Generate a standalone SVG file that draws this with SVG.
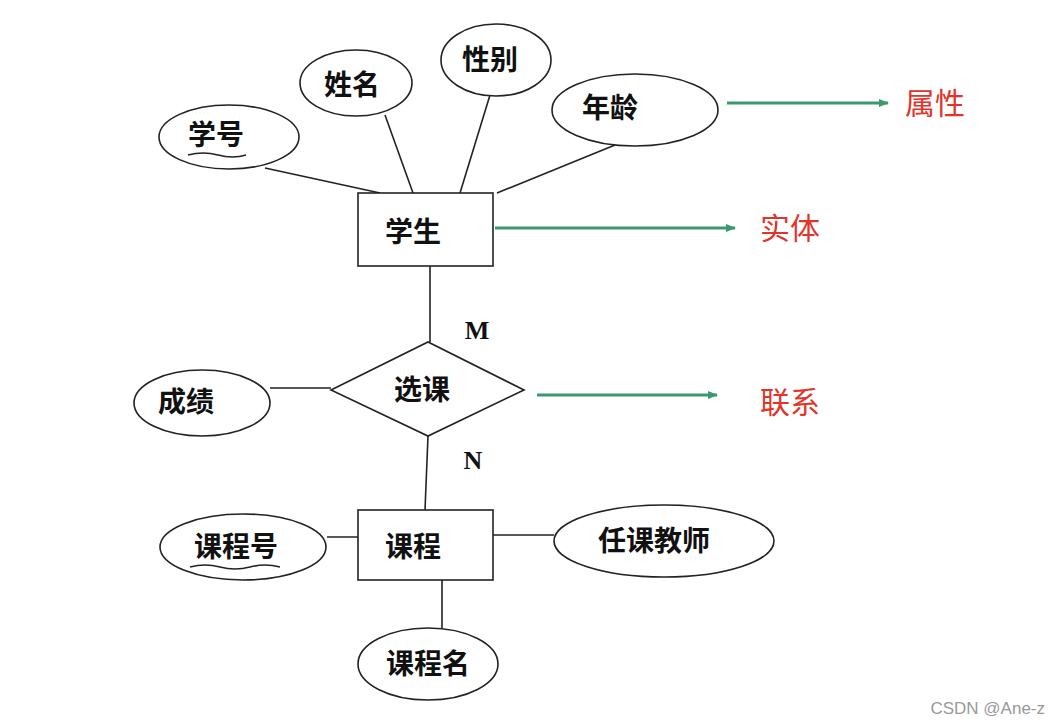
<svg xmlns="http://www.w3.org/2000/svg" width="1063" height="728" viewBox="0 0 1063 728">
<style>
.s{fill:#fff;stroke:#222;stroke-width:1.6}
.l{stroke:#222;stroke-width:1.6;fill:none}
.t{font-family:"Noto Sans CJK SC",sans-serif;font-size:28px;font-weight:bold;fill:#111;text-anchor:middle;dominant-baseline:central}
.r{font-family:"Noto Sans CJK SC",sans-serif;font-size:30px;fill:#e0352b;text-anchor:middle;dominant-baseline:central}
.g{stroke:#3a9a6e;stroke-width:3;fill:none;marker-end:url(#a)}
</style>
<defs><marker id="a" markerWidth="10" markerHeight="8" refX="9" refY="4" orient="auto" markerUnits="userSpaceOnUse" viewBox="0 0 10 8"><path d="M0,0L10,4L0,8z" fill="#3a9a6e"/></marker></defs>
<rect width="1063" height="728" fill="#fff"/>
<g id="connectors">
<path class="l" d="M265,168L380,193M385,115L413,193M490,95L460,193M615,145L497,193M430,266L430,342M270,388L331,388M428,436L425,510M327,537L358,537M493,535L554,535M442,580L442,628"/>
<path class="g" d="M727,103L888,103"/>
<path class="g" d="M495,228L735,228"/>
<path class="g" d="M537,395L717,395"/>
</g>
<g id="xuehao"><ellipse class="s" cx="229" cy="137" rx="70" ry="32"/><text class="t" x="216" y="133">学号</text><path class="l" d="M188,155q15,-4 30,0t28,0"/></g>
<g id="xingming"><ellipse class="s" cx="356" cy="83" rx="56" ry="33"/><text class="t" x="352" y="83">姓名</text></g>
<g id="xingbie"><ellipse class="s" cx="496" cy="60" rx="55" ry="36"/><text class="t" x="490" y="58">性别</text></g>
<g id="nianling"><ellipse class="s" cx="635" cy="110" rx="83" ry="36"/><text class="t" x="610" y="106">年龄</text></g>
<g id="xuesheng"><rect class="s" x="358" y="193" width="135" height="73"/><text class="t" x="413" y="230">学生</text></g>
<g id="xuanke"><polygon class="s" points="331,390 428,342 524,390 428,436"/><text class="t" x="422" y="388">选课</text></g>
<g id="chengji"><ellipse class="s" cx="202" cy="403" rx="68" ry="33"/><text class="t" x="186" y="400">成绩</text></g>
<g id="kecheng"><rect class="s" x="358" y="510" width="135" height="70"/><text class="t" x="413" y="545">课程</text></g>
<g id="kechenghao"><ellipse class="s" cx="243" cy="547" rx="83" ry="33"/><text class="t" x="236" y="545">课程号</text><path class="l" d="M190,567q15,-4 30,0t30,0t30,0"/></g>
<g id="renkejiaoshi"><ellipse class="s" cx="664" cy="541" rx="110" ry="36"/><text class="t" x="654" y="539">任课教师</text></g>
<g id="kechengming"><ellipse class="s" cx="428" cy="664" rx="70" ry="36"/><text class="t" x="428" y="662">课程名</text></g>
<text class="t" x="477" y="330" style="font-family:'Liberation Serif',serif;font-size:26px">M</text>
<text class="t" x="473" y="460" style="font-family:'Liberation Serif',serif;font-size:26px">N</text>
<text class="r" x="935" y="101">属性</text>
<text class="r" x="790" y="226">实体</text>
<text class="r" x="790" y="400">联系</text>
<text x="1045" y="714" style="font-family:'Liberation Sans',sans-serif;font-size:17px;fill:#999;text-anchor:end">CSDN @Ane-z</text>
</svg>
